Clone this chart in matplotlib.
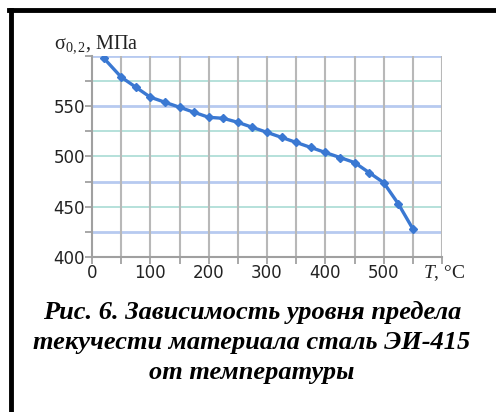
import matplotlib
matplotlib.use("Agg")
import matplotlib.pyplot as plt
from matplotlib.lines import Line2D

plt.rcParams['mathtext.fontset'] = 'custom'
plt.rcParams['mathtext.rm'] = 'Liberation Serif'
plt.rcParams['mathtext.it'] = 'Liberation Serif:italic'

# temperature, deg C
temps = [20, 50, 75, 100, 125, 150, 175, 200, 225, 250, 275, 300,
         325, 350, 375, 400, 425, 450, 475, 500, 525, 550]
# yield strength sigma_0.2, MPa
sigma = [598, 579, 569, 559, 554, 549, 544, 539, 538, 534, 529, 524,
         519, 514, 509, 504, 499, 494, 484, 474, 453, 428]

x_ticks = [0, 100, 200, 300, 400, 500]
y_ticks = [400, 450, 500, 550]

fig = plt.figure(figsize=(4.96, 4.12), dpi=100)
ax = fig.add_axes([92 / 496, 1 - 257 / 412, 350 / 496, 201 / 412])

# grid lines (two colours, as in the source)
for y in [600, 550, 475, 425]:
    ax.axhline(y, color='#b7caf0', lw=2.0, zorder=1)
for y in [575, 525, 500, 450]:
    ax.axhline(y, color='#a9dcd4', lw=1.2, zorder=1)
for x in range(50, 601, 50):
    ax.axvline(x, color='#b8b8b8', lw=1.5, zorder=1)

ax.plot(temps, sigma, color='#3a78d2', lw=2.4, marker='D', markersize=4,
        zorder=3)

ax.set_xlim(0, 600)
ax.set_ylim(400, 600)
ax.set_xticks(range(0, 601, 50))
ax.set_xticklabels([str(v) if v in x_ticks else '' for v in range(0, 601, 50)])
ax.set_yticks(range(400, 601, 25))
ax.set_yticklabels([str(v) if v in y_ticks else '' for v in range(400, 601, 25)])
ax.tick_params(colors='#9a9a9a', labelcolor='#222222', labelsize=12,
               length=5, width=1.2, pad=0)
for s in ['top', 'right']:
    ax.spines[s].set_visible(False)
for s in ['left', 'bottom']:
    ax.spines[s].set_color('#a0a0a0')
    ax.spines[s].set_linewidth(1.5)

fig.text(54 / 496, 1 - 48 / 412, 'σ$_{0,2}$, МПа', fontsize=14.5,
         family='Liberation Serif', color='#222222', va='baseline')
fig.text(423 / 496, 1 - 273 / 412, '$T$, °C', fontsize=14,
         family='Liberation Serif', color='#222222', va='center')

caption = ['Рис. 6. Зависимость уровня предела',
           'текучести материала сталь ЭИ-415',
           'от температуры']
for i, line in enumerate(caption):
    fig.text(252 / 496, 1 - (312 + 30 * i) / 412, line, fontsize=19,
             family='Liberation Serif', weight='bold', style='italic',
             ha='center', va='center')

# frame lines: left and top
fig.add_artist(Line2D([10.5 / 496, 10.5 / 496], [0, 1 - 10 / 412],
                      color='black', lw=3.5, transform=fig.transFigure))
fig.add_artist(Line2D([9 / 496, 1], [1 - 10.3 / 412, 1 - 10.3 / 412],
                      color='black', lw=3.5, transform=fig.transFigure))

fig.savefig('out.png', dpi=100)
